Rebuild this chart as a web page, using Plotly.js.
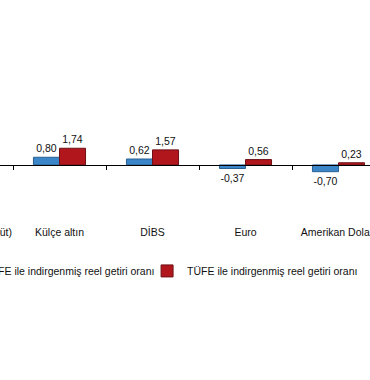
<!DOCTYPE html>
<html>
<head>
<meta charset="utf-8">
<script src="https://cdn.plot.ly/plotly-3.0.1.min.js"></script>
<style>
html, body { margin: 0; padding: 0; width: 370px; height: 380px; overflow: hidden; background: #fff; }
#chart { position: absolute; left: -80px; top: 0; width: 480px; height: 380px; }
</style>
</head>
<body>
<div id="chart"></div>
<script>
const categories = ["Mevduat faizi (Brüt)", "Külçe altın", "DİBS", "Euro", "Amerikan Doları"];
const ufeValues = [null, 0.80, 0.62, -0.37, -0.70];
const tufeValues = [null, 1.74, 1.57, 0.56, 0.23];
const seriesNames = ["Yİ-ÜFE ile indirgenmiş reel getiri oranı", "TÜFE ile indirgenmiş reel getiri oranı"];

const yRange = [-6.15, 15.1];
const xRange = [-0.5, categories.length - 0.5];
const zeroPos = (0 - yRange[0]) / (yRange[1] - yRange[0]);
const FONT = "Liberation Sans, Arial, sans-serif";

const common = {
  type: "bar",
  x: categories,
  texttemplate: "%{y:.2f}",
  textposition: "outside",
  constraintext: "none",
  cliponaxis: false,
  textfont: { family: FONT, size: 10.5, color: "#111" },
  hoverinfo: "skip"
};

const data = [
  Object.assign({}, common, {
    name: seriesNames[0],
    y: ufeValues,
    marker: { color: "#3a86c8", line: { color: "#2a5f92", width: 1 } }
  }),
  Object.assign({}, common, {
    name: seriesNames[1],
    y: tufeValues,
    marker: { color: "#b2161d", line: { color: "#6e1014", width: 1 } }
  }),
  {
    type: "scatter", mode: "markers", x: categories, y: categories.map(() => null),
    xaxis: "x2", yaxis: "y", showlegend: false, hoverinfo: "skip"
  }
];

const layout = {
  width: 480, height: 380,
  margin: { l: 0, r: 15, t: 20, b: 156 },
  paper_bgcolor: "#ffffff",
  plot_bgcolor: "#ffffff",
  separators: ",.",
  barmode: "group",
  bargap: 0.44,
  bargroupgap: 0,
  font: { family: FONT, size: 10.5, color: "#111" },
  xaxis: {
    type: "category", categoryorder: "array", categoryarray: categories,
    range: xRange, showline: false, ticks: "", showgrid: false, zeroline: false,
    tickfont: { family: FONT, size: 10.5, color: "#111" }, fixedrange: true
  },
  xaxis2: {
    type: "category", categoryorder: "array", categoryarray: categories,
    overlaying: "x", anchor: "free", position: zeroPos, range: xRange,
    showline: true, linecolor: "#000", linewidth: 1,
    ticks: "outside", tickson: "boundaries", ticklen: 4, tickcolor: "#000", tickwidth: 1,
    showticklabels: false, showgrid: false, zeroline: false, fixedrange: true
  },
  yaxis: {
    range: yRange, visible: false, showgrid: false, zeroline: false, fixedrange: true
  },
  showlegend: true,
  legend: {
    orientation: "h",
    x: 0.0367, xanchor: "left",
    y: -0.23, yanchor: "middle",
    entrywidth: 165,
    font: { family: FONT, size: 10.5, color: "#111" },
    bgcolor: "rgba(0,0,0,0)",
    itemclick: false, itemdoubleclick: false
  }
};

Plotly.newPlot("chart", data, layout, { staticPlot: true, displayModeBar: false });
</script>
</body>
</html>
